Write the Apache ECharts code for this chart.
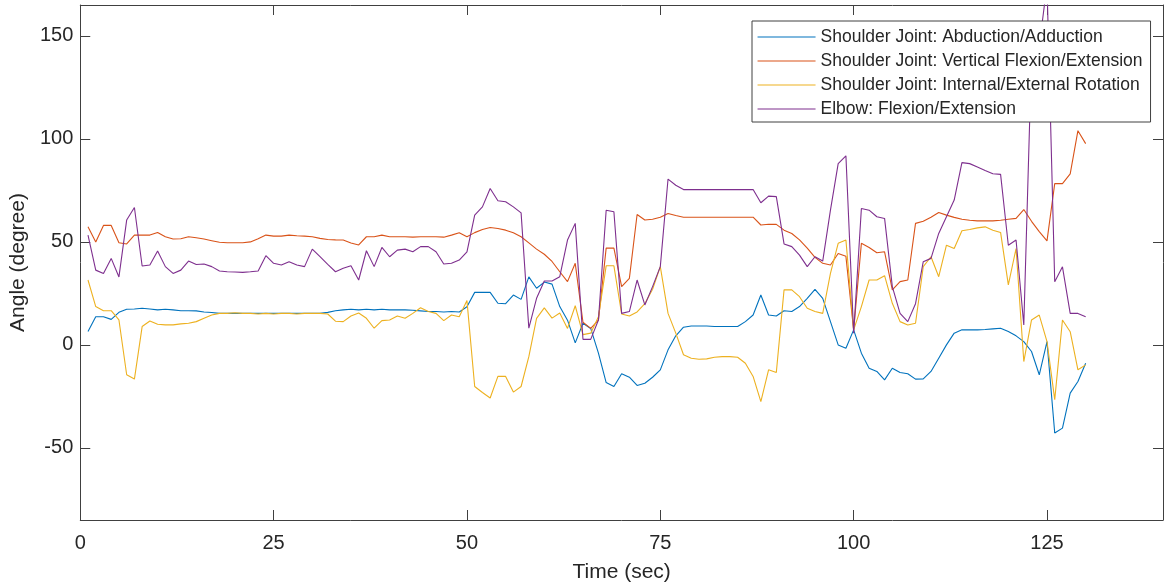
<!DOCTYPE html>
<html>
<head>
<meta charset="utf-8">
<title>Joint angles</title>
<script src="https://cdn.jsdelivr.net/npm/echarts@6/dist/echarts.min.js"></script>
<style>
  html, body { margin: 0; padding: 0; background: #ffffff; }
  #chart { width: 1164px; height: 588px; }
</style>
</head>
<body>
<div id="chart"></div>
<script>
// Sample times (s), one reading per second
const timeSec = [
  1,2,3,4,5,6,7,8,9,10,11,12,13,14,15,16,17,18,19,20,
  21,22,23,24,25,26,27,28,29,30,31,32,33,34,35,36,37,38,39,40,
  41,42,43,44,45,46,47,48,49,50,51,52,53,54,55,56,57,58,59,60,
  61,62,63,64,65,66,67,68,69,70,71,72,73,74,75,76,77,78,79,80,
  81,82,83,84,85,86,87,88,89,90,91,92,93,94,95,96,97,98,99,100,
  101,102,103,104,105,106,107,108,109,110,111,112,113,114,115,116,117,118,119,120,
  121,122,123,124,125,126,127,128,129,130
];

// Shoulder abduction/adduction (deg)
const abduction = [
  6.5,13.7,13.7,12.4,15.8,17.3,17.4,17.8,17.4,17.0,17.3,17.0,16.6,16.6,16.5,16.0,15.7,15.3,15.3,15.3,
  15.3,15.3,15.3,15.3,15.3,15.3,15.3,15.3,15.3,15.3,15.3,15.8,16.6,17.0,17.3,17.0,17.3,17.0,17.3,17.0,
  17.0,17.0,16.8,16.5,16.2,16.2,16.0,16.2,16.0,18.5,25.5,25.5,25.5,20.2,20.0,24.2,22.1,33.0,27.5,30.5,
  29.5,18.6,12.0,1.0,10.5,8.0,-4.0,-18.3,-20.2,-14.0,-15.7,-19.7,-18.6,-15.7,-12.1,-2.4,4.4,8.6,9.2,9.2,
  9.2,8.9,8.9,8.9,8.9,11.3,14.5,24.2,14.5,14.0,16.6,16.2,18.6,22.6,27.0,22.6,11.3,0.0,-1.6,7.3,
  -4.0,-11.3,-12.9,-17.0,-11.3,-13.4,-14.0,-16.6,-16.5,-12.9,-6.5,0.0,5.7,7.3,7.3,7.3,7.5,7.8,8.1,6.5,
  4.4,1.6,-3.2,-14.5,1.6,-42.8,-40.4,-23.4,-17.8,-8.9
];

// Shoulder vertical flexion/extension (deg)
const verticalFlexion = [
  57.3,50.0,58.0,58.0,49.6,49.0,53.3,53.3,53.3,54.6,52.5,51.4,51.5,52.5,52.0,51.4,50.6,49.8,49.6,49.6,
  49.6,50.0,51.5,53.3,52.8,52.8,53.3,53.0,52.8,52.5,51.7,51.2,51.0,50.9,49.5,48.5,52.5,52.5,53.3,52.5,
  52.5,52.5,52.3,52.5,52.5,52.5,52.3,53.3,54.4,52.5,54.5,56.0,57.0,56.5,55.7,54.4,52.5,49.5,46.5,44.0,
  40.5,35.5,30.7,39.6,11.0,8.0,12.0,47.0,47.0,28.3,32.3,63.3,60.6,61.0,62.0,63.8,62.8,62.0,62.0,62.0,
  62.0,62.0,62.0,62.0,62.0,62.0,62.0,58.2,58.6,58.5,55.7,54.1,51.0,47.0,42.5,39.6,38.8,44.4,43.0,7.3,
  49.3,47.3,44.7,45.2,26.7,30.7,31.5,59.0,60.0,62.0,64.3,63.0,61.9,61.0,60.5,60.2,60.2,60.2,60.5,61.0,
  61.4,65.7,60.0,55.0,50.5,78.3,78.3,83.0,104.0,97.7
];

// Shoulder internal/external rotation (deg)
const rotation = [
  31.5,18.6,16.6,16.6,12.1,-14.5,-16.6,8.9,11.6,10.0,9.7,9.7,10.2,10.5,11.3,12.9,14.5,15.3,15.3,15.6,
  15.3,15.3,15.0,15.3,15.0,15.3,15.3,15.0,15.3,15.3,15.3,15.0,11.5,11.3,14.0,15.5,12.9,8.1,11.8,12.1,
  14.0,12.9,15.3,18.0,16.2,15.3,11.8,14.5,13.7,21.5,-20.2,-23.1,-25.8,-15.3,-15.3,-22.9,-20.2,-5.7,12.9,18.0,
  13.0,15.5,8.0,19.0,5.0,5.7,13.7,38.4,38.4,15.0,14.0,16.0,20.0,27.0,38.0,15.3,5.7,-4.8,-6.5,-7.0,
  -6.8,-6.0,-5.7,-5.7,-6.0,-8.9,-15.3,-27.5,-12.1,-13.4,26.7,26.7,23.4,17.8,16.2,15.3,34.7,49.3,50.9,7.3,
  18.6,31.5,31.5,33.6,20.2,11.3,9.7,10.5,38.0,42.8,33.1,48.4,46.8,55.4,56.0,56.8,57.3,55.7,54.6,29.1,
  46.8,-8.1,12.1,14.5,1.6,-26.6,12.1,6.4,-12.1,-9.7
];

// Elbow flexion/extension (deg); the peak near 125 s runs past the top of the axes
const elbowFlexion = [
  53.3,36.3,34.7,42.0,33.0,60.6,66.7,38.3,38.8,45.6,38.0,34.7,36.3,40.7,39.0,39.3,38.0,35.9,35.5,35.4,
  35.2,35.5,35.9,43.3,39.6,38.8,40.4,38.8,38.0,46.5,42.8,39.1,35.5,37.2,38.4,31.5,45.7,38.0,47.3,42.8,
  46.0,46.5,45.2,47.7,47.7,45.2,39.3,39.6,41.2,45.2,63.0,67.0,75.9,70.0,69.5,67.0,64.1,8.1,22.6,31.0,
  31.0,33.1,50.9,59.0,2.7,2.7,12.1,65.4,64.6,15.3,16.2,31.5,19.4,28.3,38.0,80.5,77.5,75.4,75.4,75.4,
  75.4,75.4,75.4,75.4,75.4,75.4,75.4,69.0,72.2,72.0,49.0,47.7,43.6,38.0,42.8,40.7,65.4,88.0,91.8,5.7,
  66.2,65.4,62.2,61.4,28.3,15.3,11.3,20.0,40.4,42.0,54.1,62.2,70.3,88.5,88.0,86.4,84.7,83.1,82.8,48.4,
  50.9,9.7,140.0,145.0,175.0,30.7,37.9,15.3,15.3,13.7
];

const seriesNames = [
  'Shoulder Joint: Abduction/Adduction',
  'Shoulder Joint: Vertical Flexion/Extension',
  'Shoulder Joint: Internal/External Rotation',
  'Elbow: Flexion/Extension'
];
const seriesValues = [abduction, verticalFlexion, rotation, elbowFlexion];
const seriesColors = ['#0072BD', '#D95319', '#EDB120', '#7E2F8E'];

const xTicks = [0, 25, 50, 75, 100, 125];
const yTicks = [-50, 0, 50, 100, 150];
const xRange = [0, 140];
const yRange = [-85, 165];

const FONT = '"Liberation Sans", Arial, Helvetica, sans-serif';
const AXIS_COLOR = '#404040';
const TEXT_COLOR = '#262626';

function pairs(values) {
  return timeSec.map((t, i) => [t, values[i]]);
}

// One side of the boxed axes: inward ticks, optional labels and title
function boxAxis(position, ticks, range, withLabels, name) {
  const ax = {
    type: 'value',
    position: position,
    min: range[0],
    max: range[1],
    splitLine: { show: false },
    axisLine: { show: true, onZero: false, lineStyle: { color: AXIS_COLOR, width: 1 } },
    axisTick: { show: true, inside: true, length: 10, customValues: ticks,
                lineStyle: { color: AXIS_COLOR, width: 1 } },
    axisLabel: { show: withLabels, customValues: ticks, color: TEXT_COLOR,
                 fontFamily: FONT, fontSize: 20 }
  };
  if (name) {
    ax.name = name;
    ax.nameLocation = 'middle';
    ax.nameTextStyle = { color: TEXT_COLOR, fontFamily: FONT, fontSize: 21 };
  }
  return ax;
}

const xBottom = boxAxis('bottom', xTicks, xRange, true, 'Time (sec)');
xBottom.nameGap = 42;
xBottom.axisLabel.margin = 13;
const xTop = boxAxis('top', xTicks, xRange, false);

const yLeft = boxAxis('left', yTicks, yRange, true, 'Angle (degree)');
yLeft.nameGap = 46;
yLeft.axisLabel.margin = 7;
const yRight = boxAxis('right', yTicks, yRange, false);

const chart = echarts.init(document.getElementById('chart'), null, { renderer: 'canvas' });

chart.setOption({
  animation: false,
  backgroundColor: '#ffffff',
  grid: { left: 79, right: 1, top: 5, bottom: 68, containLabel: false },
  xAxis: [xBottom, xTop],
  yAxis: [yLeft, yRight],
  legend: {
    orient: 'vertical',
    left: 752,
    top: 21,
    padding: [7, 8, 4, 5],
    itemWidth: 58,
    itemHeight: 18,
    itemGap: 6,
    backgroundColor: '#ffffff',
    borderColor: '#404040',
    borderWidth: 1,
    borderRadius: 0,
    selectedMode: false,
    // plain line samples: the marker in the middle is hidden
    itemStyle: { opacity: 0, borderWidth: 0 },
    lineStyle: { width: 1.1 },
    textStyle: { color: TEXT_COLOR, fontFamily: FONT, fontSize: 17.5, lineHeight: 18 },
    data: seriesNames
  },
  series: seriesNames.map((name, k) => ({
    name: name,
    type: 'line',
    xAxisIndex: 0,
    yAxisIndex: 0,
    data: pairs(seriesValues[k]),
    symbol: 'none',
    clip: true,
    lineStyle: { color: seriesColors[k], width: 1.1 },
    itemStyle: { color: seriesColors[k] },
    emphasis: { disabled: true }
  }))
});
</script>
</body>
</html>
